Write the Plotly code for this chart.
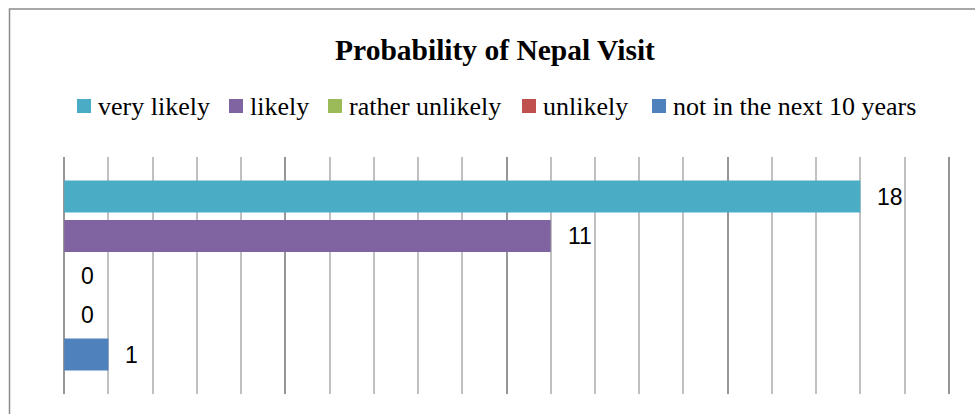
import plotly.graph_objects as go

categories = ["very likely", "likely", "rather unlikely", "unlikely", "not in the next 10 years"]
values = [18, 11, 0, 0, 1]
colors = ["#4BACC6", "#8064A2", "#9BBB59", "#C0504D", "#4F81BD"]
positions = [0, 1, 2, 3, 4]

# legend layout (pixel positions of each key square's left edge)
legend_square_left = [77, 229, 328, 522, 652]

W, H = 975, 414
X0_PX, X20_PX = 64, 949          # pixel positions of x=0 and x=20
PAD = 0.05                        # small range padding so the edge gridlines are drawn
unit = (X20_PX - X0_PX) / 20
L = round(X0_PX - PAD * unit)
R = round(W - (X20_PX + PAD * unit))
T, B = 157, 20
pw, ph = W - L - R, H - T - B

fig = go.Figure()
for name, v, c, p in zip(categories, values, colors, positions):
    fig.add_trace(go.Bar(
        name=name, x=[v], y=[p], orientation="h",
        marker=dict(color=c, line=dict(width=0)),
        width=0.81, hoverinfo="name+x", showlegend=False,
    ))
    fig.add_annotation(
        x=v, y=p, xref="x", yref="y", text=str(v), showarrow=False,
        xanchor="left", yanchor="middle", xshift=15,
        font=dict(family="Liberation Sans, Arial, sans-serif", size=23, color="#000000"),
    )

def px_x(x):
    return (x - L) / pw

def px_y(y):
    return (H - B - y) / ph

# outer chart border
fig.add_shape(type="rect", xref="paper", yref="paper",
              x0=px_x(9.5), x1=px_x(990), y0=px_y(430), y1=px_y(9),
              line=dict(color="#8C8C8C", width=1.5), fillcolor="rgba(0,0,0,0)", layer="below")

# legend keys
SQ = 14
for name, c, sx in zip(categories, colors, legend_square_left):
    fig.add_shape(type="rect", xref="paper", yref="paper",
                  x0=px_x(sx), x1=px_x(sx + SQ), y0=px_y(113), y1=px_y(99),
                  line=dict(width=0), fillcolor=c)
    fig.add_annotation(x=px_x(sx + SQ + 5), y=px_y(107), xref="paper", yref="paper",
                       text=name, showarrow=False, xanchor="left", yanchor="middle",
                       font=dict(family="Liberation Serif, Times New Roman, serif", size=26, color="#000000"))

fig.update_layout(
    width=W, height=H,
    margin=dict(l=L, r=R, t=T, b=B, pad=0),
    paper_bgcolor="#FFFFFF", plot_bgcolor="#FFFFFF",
    barmode="overlay",
    title=dict(text="<b>Probability of Nepal Visit</b>", x=495 / W, xref="container", xanchor="center",
               y=1 - 50 / H, yref="container", yanchor="middle",
               font=dict(family="Liberation Serif, Times New Roman, serif", size=29.5, color="#000000")),
    showlegend=False,
    xaxis=dict(range=[-PAD, 20 + PAD], dtick=5, tick0=0, showticklabels=False, ticks="",
               showgrid=True, gridcolor="#969696", gridwidth=1.5,
               minor=dict(dtick=1, showgrid=True, gridcolor="#C0C0C0", gridwidth=1.5),
               zeroline=False, showline=False, fixedrange=True),
    yaxis=dict(range=[5, -1], showticklabels=False, ticks="", showgrid=False,
               zeroline=False, showline=False, fixedrange=True),
)

fig.write_html("out.html")
